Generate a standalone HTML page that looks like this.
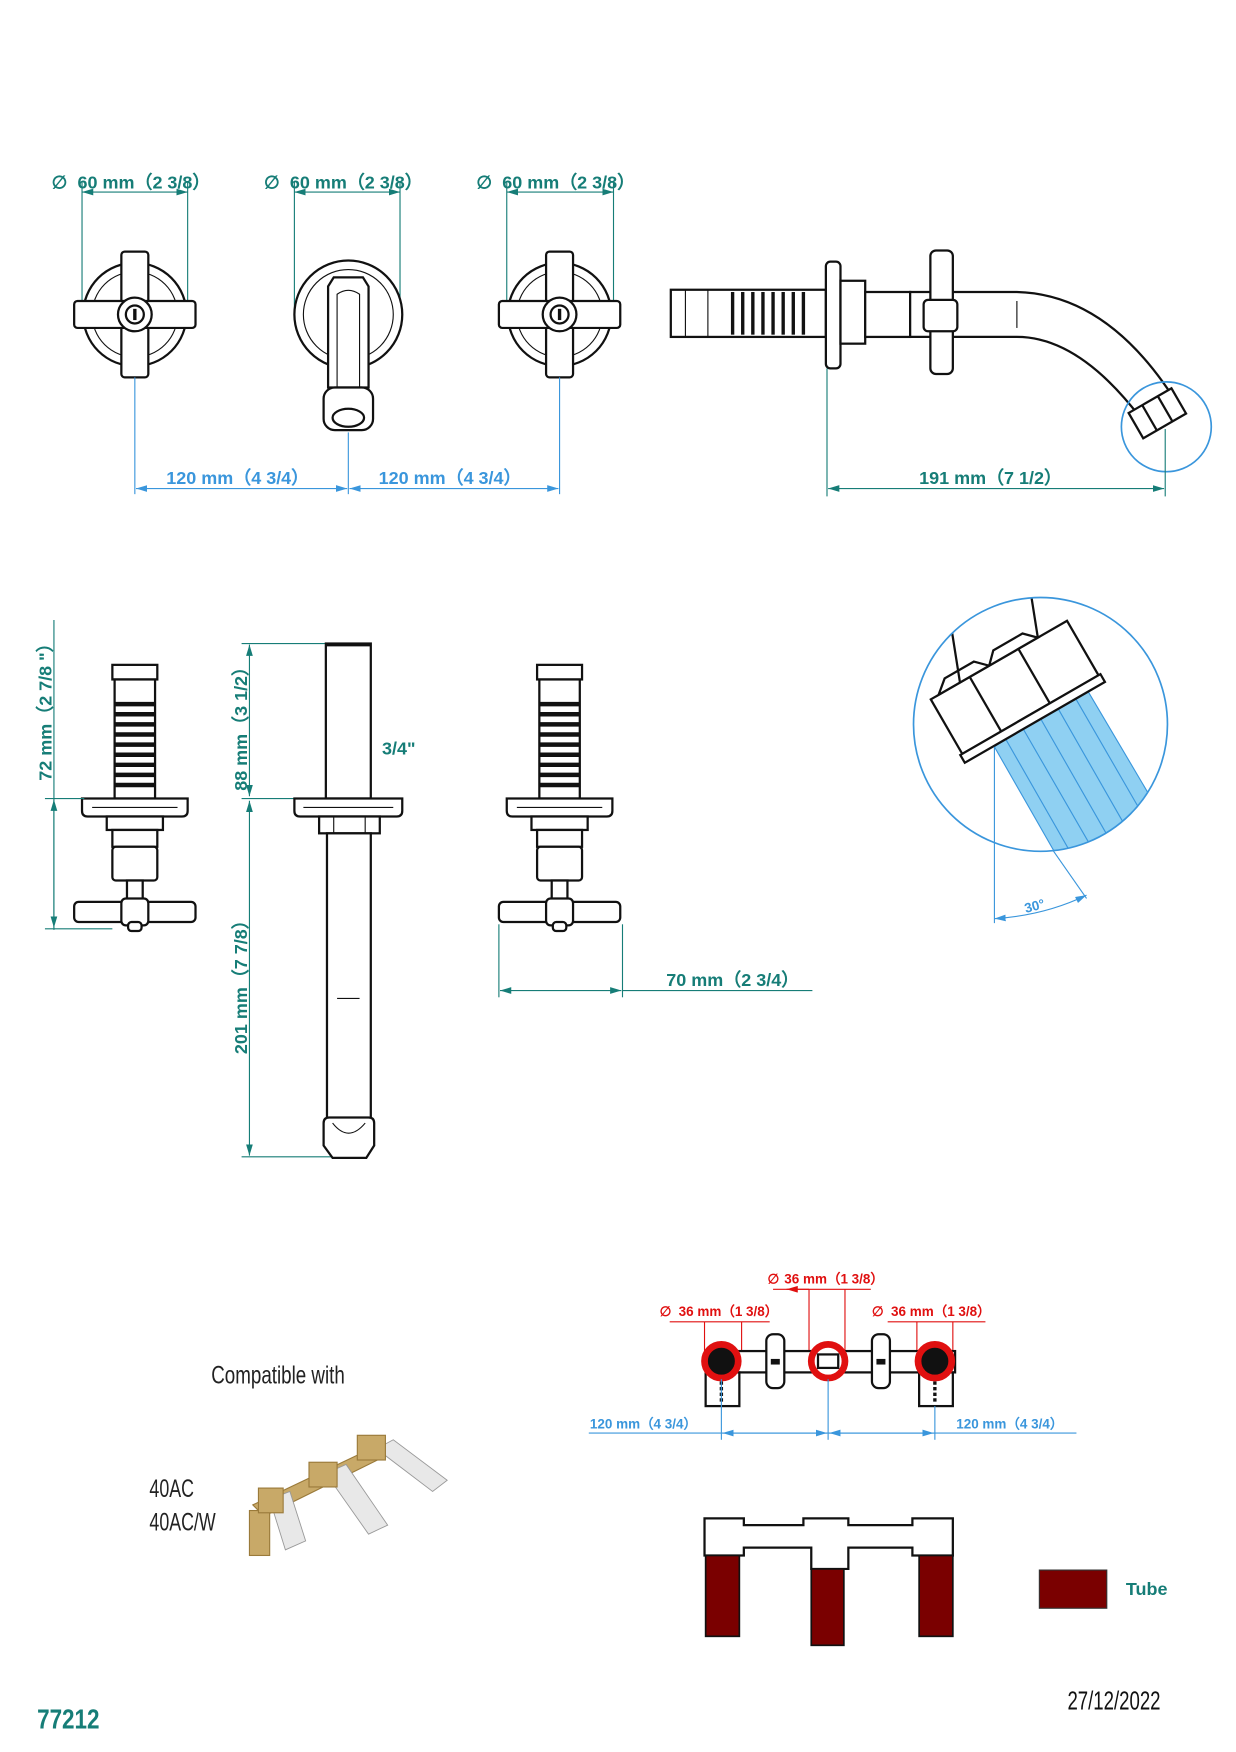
<!DOCTYPE html>
<html><head><meta charset="utf-8"><style>
html,body{margin:0;padding:0;background:#fff;}
svg{display:block;}
text{font-family:"Liberation Sans",sans-serif;}
.t{fill:#167d77;font-weight:bold;font-size:16px;}
.b{fill:#3a96dc;font-weight:bold;font-size:16px;}
.r{fill:#e01010;font-weight:bold;font-size:12px;}
.bs{fill:#3a96dc;font-weight:bold;font-size:12px;}
.k{fill:none;stroke:#111;stroke-width:2;}
.kf{fill:#fff;stroke:#111;stroke-width:2;}
.kt{fill:none;stroke:#111;stroke-width:1;}
.tl{stroke:#167d77;stroke-width:1;fill:none;}
.bl{stroke:#3a96dc;stroke-width:1;fill:none;}
.rl{stroke:#e01010;stroke-width:1;fill:none;}
</style></head><body>
<svg width="1236" height="1752" viewBox="0 0 1100 1560" preserveAspectRatio="none" xmlns="http://www.w3.org/2000/svg">
<defs>
<marker id="at" markerWidth="10" markerHeight="6" refX="10" refY="3" orient="auto-start-reverse"><path d="M0,0 L10,3 L0,6 z" fill="#167d77"/></marker>
<marker id="ab" markerWidth="10" markerHeight="6" refX="10" refY="3" orient="auto-start-reverse"><path d="M0,0 L10,3 L0,6 z" fill="#3a96dc"/></marker>
<marker id="ar" markerWidth="10" markerHeight="6" refX="10" refY="3" orient="auto-start-reverse"><path d="M0,0 L10,3 L0,6 z" fill="#e01010"/></marker>
<g id="cross">
<circle r="46" class="kf"/>
<circle r="38" class="kt"/>
<rect x="-12" y="-56" width="24" height="112" rx="3" class="kf"/>
<rect x="-54" y="-12" width="108" height="24" rx="3" class="kf"/>
<circle r="15" class="kf" stroke-width="3"/>
<circle r="8" class="kf"/>
<line x1="0" y1="-5" x2="0" y2="5" stroke="#111" stroke-width="3"/>
</g>
<g id="side">
<rect x="-20" y="0" width="40" height="13" class="kf"/>
<rect x="-18" y="13" width="36" height="106" class="kf"/>
<g stroke="#111" stroke-width="4">
<line x1="-18" y1="35" x2="18" y2="35"/><line x1="-18" y1="44" x2="18" y2="44"/><line x1="-18" y1="53" x2="18" y2="53"/><line x1="-18" y1="62" x2="18" y2="62"/><line x1="-18" y1="71" x2="18" y2="71"/><line x1="-18" y1="80" x2="18" y2="80"/><line x1="-18" y1="89" x2="18" y2="89"/><line x1="-18" y1="98" x2="18" y2="98"/><line x1="-18" y1="107" x2="18" y2="107"/>
</g>
<path d="M-47,119 H47 V130 Q47,135 42,135 H-42 Q-47,135 -47,130 Z" class="kf"/>
<line x1="-38" y1="127" x2="38" y2="127" class="kt"/>
<rect x="-25" y="135" width="50" height="12" class="kf"/>
<rect x="-20" y="147" width="40" height="15" class="kf"/>
<rect x="-20" y="162" width="40" height="30" rx="3" class="kf"/>
<rect x="-7" y="192" width="14" height="20" class="kf"/>
<rect x="-54" y="211" width="108" height="18" rx="4" class="kf"/>
<rect x="-12" y="208" width="24" height="24" rx="4" class="kf"/>
<rect x="-6" y="229" width="12" height="8" rx="3" class="kf"/>
</g>
</defs>

<!-- TOP ROW -->
<text x="46" y="168" class="t" font-weight="normal">∅</text>
<text x="69" y="168" class="t">60 mm（2 3/8）</text>
<text x="235" y="168" class="t" font-weight="normal">∅</text>
<text x="258" y="168" class="t">60 mm（2 3/8）</text>
<text x="424" y="168" class="t" font-weight="normal">∅</text>
<text x="447" y="168" class="t">60 mm（2 3/8）</text>
<g class="tl">
<line x1="73" y1="171" x2="167" y2="171" marker-start="url(#at)" marker-end="url(#at)"/>
<line x1="73" y1="162" x2="73" y2="290"/><line x1="167" y1="162" x2="167" y2="290"/>
<line x1="262" y1="171" x2="356" y2="171" marker-start="url(#at)" marker-end="url(#at)"/>
<line x1="262" y1="162" x2="262" y2="285"/><line x1="356" y1="162" x2="356" y2="285"/>
<line x1="451" y1="171" x2="546" y2="171" marker-start="url(#at)" marker-end="url(#at)"/>
<line x1="451" y1="162" x2="451" y2="290"/><line x1="546" y1="162" x2="546" y2="290"/>
</g>
<use href="#cross" x="120" y="280"/>
<use href="#cross" x="498" y="280"/>
<circle cx="310" cy="280" r="48" class="kf"/>
<circle cx="310" cy="280" r="40" class="kt"/>
<path d="M292,255 L297,247 H323 L328,255 V345 H292 Z" class="kf"/>
<path d="M300,262 Q310,255 320,262 V345 H300 Z" class="kt"/>
<rect x="288" y="345" width="44" height="38" rx="10" class="kf" stroke-width="3"/>
<ellipse cx="310" cy="372" rx="14" ry="8" class="kf" stroke-width="4"/>
<g class="bl">
<line x1="120" y1="336" x2="120" y2="440"/><line x1="310" y1="385" x2="310" y2="440"/><line x1="498" y1="336" x2="498" y2="440"/>
<line x1="121" y1="435" x2="309" y2="435" marker-start="url(#ab)" marker-end="url(#ab)"/>
<line x1="311" y1="435" x2="497" y2="435" marker-start="url(#ab)" marker-end="url(#ab)"/>
</g>
<text x="148" y="431" class="b">120 mm（4 3/4）</text>
<text x="337" y="431" class="b">120 mm（4 3/4）</text>

<!-- side spout view -->
<rect x="597" y="258" width="138" height="42" class="kf"/>
<line x1="610" y1="258" x2="610" y2="300" class="kt"/><line x1="630" y1="258" x2="630" y2="300" class="kt"/>
<g stroke="#111" stroke-width="3">
<line x1="652" y1="260" x2="652" y2="298"/><line x1="661" y1="260" x2="661" y2="298"/><line x1="670" y1="260" x2="670" y2="298"/><line x1="679" y1="260" x2="679" y2="298"/><line x1="688" y1="260" x2="688" y2="298"/><line x1="697" y1="260" x2="697" y2="298"/><line x1="706" y1="260" x2="706" y2="298"/><line x1="715" y1="260" x2="715" y2="298"/>
</g>
<rect x="735" y="233" width="13" height="95" rx="4" class="kf"/>
<rect x="748" y="250" width="22" height="56" class="kf"/>
<rect x="770" y="260" width="40" height="40" class="kf"/>
<path d="M810,260 H905 Q985,262 1045,355 L1015,372 Q960,300 905,300 H810 Z" class="kf"/>
<line x1="905" y1="268" x2="905" y2="292" class="kt"/>
<rect x="828" y="223" width="20" height="110" rx="5" class="kf"/>
<rect x="822" y="267" width="30" height="28" rx="4" class="kf"/>
<g transform="translate(1030,368) rotate(-30)"><rect x="-22" y="-13" width="44" height="26" class="kf"/><line x1="-8" y1="-13" x2="-8" y2="13" class="k"/><line x1="8" y1="-13" x2="8" y2="13" class="k"/></g>
<circle cx="1038" cy="380" r="40" fill="none" stroke="#3a96dc" stroke-width="1.5"/>
<g class="tl">
<line x1="736" y1="328" x2="736" y2="442"/><line x1="1037" y1="382" x2="1037" y2="442"/>
<line x1="737" y1="435" x2="1036" y2="435" marker-start="url(#at)" marker-end="url(#at)"/>
</g>
<text x="818" y="431" class="t">191 mm（7 1/2）</text>

<!-- MIDDLE -->
<use href="#side" x="120" y="592"/>
<use href="#side" x="498" y="592"/>
<g class="tl">
<line x1="48" y1="552" x2="48" y2="828"/>
<line x1="48" y1="712" x2="48" y2="826" marker-start="url(#at)" marker-end="url(#at)"/>
<line x1="40" y1="711" x2="75" y2="711"/><line x1="40" y1="827" x2="100" y2="827"/>
<line x1="222" y1="574" x2="222" y2="709" marker-start="url(#at)" marker-end="url(#at)"/>
<line x1="222" y1="713" x2="222" y2="1029" marker-start="url(#at)" marker-end="url(#at)"/>
<line x1="215" y1="573" x2="290" y2="573"/><line x1="215" y1="711" x2="262" y2="711"/><line x1="215" y1="1030" x2="300" y2="1030"/>
<line x1="444" y1="823" x2="444" y2="888"/><line x1="554" y1="823" x2="554" y2="888"/>
<line x1="445" y1="882" x2="553" y2="882" marker-start="url(#at)" marker-end="url(#at)"/>
<line x1="554" y1="882" x2="723" y2="882"/>
</g>
<text transform="translate(46,630) rotate(-90)" text-anchor="middle" class="t">72 mm（2 7/8 "）</text>
<text transform="translate(220,645) rotate(-90)" text-anchor="middle" class="t">88 mm（3 1/2）</text>
<text transform="translate(220,875) rotate(-90)" text-anchor="middle" class="t">201 mm（7 7/8）</text>
<text x="340" y="672" class="t">3/4"</text>
<text x="593" y="878" class="t">70 mm（2 3/4）</text>
<!-- spout vertical -->
<rect x="290" y="573" width="40" height="138" class="kf"/>
<line x1="290" y1="574" x2="330" y2="574" stroke="#111" stroke-width="3"/>
<path d="M262,711 H358 V722 Q358,727 353,727 H267 Q262,727 262,722 Z" class="kf"/>
<line x1="270" y1="719" x2="350" y2="719" class="kt"/>
<rect x="284" y="727" width="54" height="15" class="kf"/>
<line x1="297" y1="727" x2="297" y2="742" class="kt"/><line x1="325" y1="727" x2="325" y2="742" class="kt"/>
<rect x="291" y="742" width="39" height="258" class="kf"/>
<line x1="300" y1="889" x2="320" y2="889" class="kt"/>
<path d="M288,1000 Q288,995 293,995 H328 Q333,995 333,1000 V1020 L326,1031 H296 L288,1020 Z" class="kf"/>
<path d="M296,1000 Q310,1018 325,1000" class="kt"/>

<!-- detail circle -->
<clipPath id="cc"><circle cx="926" cy="645" r="113"/></clipPath>
<g clip-path="url(#cc)">
<path d="M885,665 L965,610 L1030,720 L945,770 Z" fill="#8fd0f2" stroke="#3a96dc" stroke-width="1"/>
<g stroke="#3a96dc" stroke-width="1"><line x1="895" y1="658" x2="955" y2="763"/><line x1="910" y1="648" x2="970" y2="752"/><line x1="925" y1="638" x2="985" y2="743"/><line x1="940" y1="628" x2="1000" y2="733"/><line x1="955" y1="618" x2="1015" y2="722"/></g>
<g transform="translate(903,612) rotate(-30)">
<rect x="-70" y="-28" width="140" height="56" class="kf"/>
<path d="M-62,-28 L-50,-38 H-20 L-10,-28 Z M-10,-28 L0,-38 H30 L40,-28 Z" class="kf"/>
<line x1="-30" y1="-28" x2="-30" y2="28" class="k"/><line x1="20" y1="-28" x2="20" y2="28" class="k"/>
<rect x="-72" y="28" width="144" height="8" class="kf"/>
<line x1="-40" y1="-28" x2="-20" y2="-80" class="k"/><line x1="40" y1="-28" x2="60" y2="-80" class="k"/>
</g>
</g>
<circle cx="926" cy="645" r="113" fill="none" stroke="#3a96dc" stroke-width="1.5"/>
<g class="bl"><line x1="885" y1="665" x2="885" y2="822"/><line x1="937" y1="757" x2="967" y2="800"/><path d="M885,818 Q930,815 967,797" marker-start="url(#ab)" marker-end="url(#ab)"/></g>
<text x="913" y="813" class="bs" font-size="11" transform="rotate(-15 913 813)">30°</text>

<!-- BOTTOM LEFT -->
<text x="188" y="1232" font-size="22" fill="#222" transform="translate(188 0) scale(0.76 1) translate(-188 0)">Compatible with</text>
<text x="133" y="1333" font-size="22" fill="#222" transform="translate(133 0) scale(0.72 1) translate(-133 0)">40AC</text>
<text x="133" y="1363" font-size="22" fill="#222" transform="translate(133 0) scale(0.72 1) translate(-133 0)">40AC/W</text>
<g>
<path d="M225,1340 L330,1290 L340,1298 L235,1350 Z" fill="#c8a968" stroke="#9a7a3a"/>
<rect x="222" y="1345" width="18" height="40" fill="#c8a968" stroke="#9a7a3a"/>
<g stroke="#999" stroke-width="0.8">
<path d="M240,1335 L258,1328 L272,1372 L254,1380 Z" fill="#e8e8e8"/>
<path d="M290,1312 L308,1304 L345,1358 L328,1366 Z" fill="#e8e8e8"/>
<path d="M335,1290 L350,1282 L398,1318 L385,1328 Z" fill="#e8e8e8"/>
</g>
<rect x="318" y="1278" width="25" height="22" fill="#c8a968" stroke="#9a7a3a"/>
<rect x="275" y="1302" width="25" height="22" fill="#c8a968" stroke="#9a7a3a"/>
<rect x="230" y="1325" width="22" height="22" fill="#c8a968" stroke="#9a7a3a"/>
</g>

<!-- BOTTOM RIGHT red dims -->
<text x="683" y="1143" class="r" font-weight="normal">∅</text><text x="698" y="1143" class="r">36 mm（1 3/8）</text>
<text x="587" y="1172" class="r" font-weight="normal">∅</text><text x="604" y="1172" class="r">36 mm（1 3/8）</text>
<text x="776" y="1172" class="r" font-weight="normal">∅</text><text x="793" y="1172" class="r">36 mm（1 3/8）</text>
<g class="rl">
<line x1="688" y1="1148" x2="775" y2="1148"/><line x1="700" y1="1148" x2="720" y2="1148" marker-start="url(#ar)"/>
<line x1="720" y1="1148" x2="720" y2="1208"/><line x1="752" y1="1148" x2="752" y2="1208"/>
<line x1="596" y1="1177" x2="685" y2="1177"/>
<line x1="627" y1="1177" x2="627" y2="1208"/><line x1="660" y1="1177" x2="660" y2="1208"/>
<line x1="790" y1="1177" x2="877" y2="1177"/>
<line x1="816" y1="1177" x2="816" y2="1208"/><line x1="848" y1="1177" x2="848" y2="1208"/>
</g>
<rect x="628" y="1203" width="222" height="19" class="kf"/>
<rect x="628" y="1222" width="30" height="30" class="kf"/><rect x="818" y="1222" width="30" height="30" class="kf"/>
<rect x="682" y="1188" width="16" height="48" rx="6" class="kf"/><rect x="776" y="1188" width="16" height="48" rx="6" class="kf"/>
<rect x="686" y="1210" width="8" height="5" fill="#111"/><rect x="780" y="1210" width="8" height="5" fill="#111"/>
<line x1="642" y1="1225" x2="642" y2="1250" stroke="#111" stroke-width="3" stroke-dasharray="3,2"/>
<line x1="832" y1="1225" x2="832" y2="1250" stroke="#111" stroke-width="3" stroke-dasharray="3,2"/>
<circle cx="642" cy="1212" r="15" fill="#111" stroke="#e01010" stroke-width="6"/>
<circle cx="737" cy="1212" r="15" fill="#fff" stroke="#e01010" stroke-width="6"/>
<rect x="728" y="1206" width="18" height="12" class="kf" stroke-width="3"/>
<circle cx="832" cy="1212" r="15" fill="#111" stroke="#e01010" stroke-width="6"/>
<g class="bl">
<line x1="642" y1="1228" x2="642" y2="1282"/><line x1="737" y1="1228" x2="737" y2="1282"/><line x1="832" y1="1252" x2="832" y2="1282"/>
<line x1="524" y1="1276" x2="958" y2="1276"/>
<line x1="643" y1="1276" x2="736" y2="1276" marker-start="url(#ab)" marker-end="url(#ab)"/>
<line x1="738" y1="1276" x2="831" y2="1276" marker-start="url(#ab)" marker-end="url(#ab)"/>
</g>
<text x="525" y="1272" class="bs" font-weight="normal">120 mm（4 3/4）</text>
<text x="851" y="1272" class="bs" font-weight="normal">120 mm（4 3/4）</text>

<!-- tube diagram -->
<path d="M627,1352 H662 V1358 H715 V1352 H755 V1358 H812 V1352 H848 V1385 H812 V1378 H755 V1397 H722 V1378 H662 V1385 H627 Z" class="kf"/>
<rect x="628" y="1385" width="30" height="72" fill="#7a0000" stroke="#111" stroke-width="1.5"/>
<rect x="722" y="1397" width="29" height="68" fill="#7a0000" stroke="#111" stroke-width="1.5"/>
<rect x="818" y="1385" width="30" height="72" fill="#7a0000" stroke="#111" stroke-width="1.5"/>
<rect x="925" y="1398" width="60" height="34" fill="#7a0000" stroke="#333"/>
<text x="1002" y="1420" class="t" font-size="18">Tube</text>

<text x="33" y="1539" font-size="25" font-weight="bold" fill="#167d77" transform="translate(33 0) scale(0.8 1) translate(-33 0)">77212</text>
<text x="950" y="1522" font-size="23" fill="#111" transform="translate(950 0) scale(0.72 1) translate(-950 0)">27/12/2022</text>
</svg>
</body></html>
